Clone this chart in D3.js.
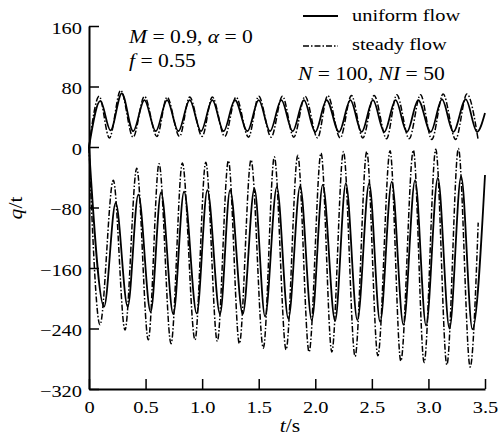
<!DOCTYPE html>
<html>
<head>
<meta charset="utf-8">
<script src="https://cdn.jsdelivr.net/npm/d3@7"></script>
<style>
  body { margin: 0; background: #fff; }
  text { font-family: "Liberation Serif", "Times New Roman", serif; fill: #000; }
</style>
</head>
<body>
<div id="chart"></div>
<script>
const width = 501;
const height = 448;

// tick values and labels
const xTicks = [0, 0.5, 1, 1.5, 2, 2.5, 3, 3.5];
const xTickLabels = ["0", "0.5", "1.0", "1.5", "2.0", "2.5", "3.0", "3.5"];
const yTicks = [-320, -240, -160, -80, 0, 80, 160];
const yTickLabels = ["\u2212320", "\u2212240", "\u2212160", "\u221280", "0", "80", "160"];

// [t, q/t] (peaks and troughs)
const uniformUpper = [
  [0, 0], [0.10, 61], [0.19, 22], [0.29, 71], [0.39, 21], [0.49, 62], [0.59, 21], [0.69, 62],
  [0.79, 21], [0.89, 62], [0.99, 21], [1.09, 62], [1.19, 21], [1.29, 62], [1.40, 21], [1.50, 62],
  [1.60, 21], [1.70, 62], [1.80, 21], [1.90, 62], [2.00, 20], [2.10, 62], [2.21, 20], [2.31, 62],
  [2.41, 20], [2.51, 62], [2.61, 20], [2.71, 62], [2.81, 20], [2.91, 62], [3.02, 20], [3.12, 63],
  [3.22, 20], [3.33, 63], [3.43, 20], [3.50, 45]
];
const steadyUpper = [
  [0, 0], [0.09, 67], [0.18, 12], [0.28, 75], [0.39, 13], [0.49, 67], [0.60, 14], [0.69, 66],
  [0.80, 14], [0.89, 66], [1.00, 14], [1.09, 66], [1.20, 14], [1.30, 66], [1.41, 13], [1.50, 67],
  [1.61, 13], [1.71, 67], [1.81, 13], [1.91, 67], [2.02, 12], [2.11, 68], [2.22, 12], [2.32, 68],
  [2.42, 12], [2.52, 68], [2.63, 11], [2.72, 69], [2.83, 11], [2.93, 69], [3.03, 10], [3.13, 70],
  [3.24, 10], [3.34, 70], [3.44, 9]
];
const uniformLower = [
  [0, 0], [0.133, -211], [0.236, -74], [0.342, -211], [0.436, -63], [0.545, -218], [0.637, -60],
  [0.745, -221], [0.840, -59], [0.952, -220], [1.046, -57], [1.158, -221], [1.247, -57],
  [1.359, -221], [1.462, -55], [1.556, -224], [1.660, -53], [1.762, -227], [1.866, -52],
  [1.969, -229], [2.066, -50], [2.175, -230], [2.270, -48], [2.372, -229], [2.476, -48],
  [2.573, -231], [2.676, -46], [2.779, -235], [2.882, -44], [2.979, -236], [3.083, -41],
  [3.186, -240], [3.289, -39], [3.389, -241], [3.50, -37]
];
const steadyLower = [
  [0, 0], [0.097, -235], [0.215, -44], [0.318, -242], [0.422, -28], [0.524, -255], [0.619, -22],
  [0.725, -260], [0.825, -21], [0.937, -255], [1.032, -20], [1.134, -257], [1.232, -18],
  [1.329, -260], [1.432, -17], [1.541, -266], [1.638, -13], [1.742, -268], [1.845, -11],
  [1.945, -271], [2.051, -8], [2.146, -271], [2.249, -6], [2.352, -277], [2.455, -6],
  [2.553, -276], [2.661, -5], [2.756, -283], [2.867, -4], [2.962, -285], [3.065, -3],
  [3.163, -288], [3.265, -2], [3.369, -291], [3.44, -100]
];

const serif = '"Liberation Serif", "Times New Roman", serif';
const stretch = 1.2; // glyphs in the figure are wider than Times

const x = d3.scaleLinear().domain([0, 3.5]).range([89, 485]);
const y = d3.scaleLinear().domain([-320, 160]).range([389, 26]);

const svg = d3.select("#chart")
  .append("svg")
  .attr("width", width)
  .attr("height", height)
  .attr("viewBox", [0, 0, width, height])
  .attr("font-family", serif);

const line = d3.line()
  .x(d => x(d[0]))
  .y(d => y(d[1]))
  .curve(d3.curveMonotoneX);

const solidStyle = { width: 1.8, dash: null };
const dashStyle = { width: 1.5, dash: "6,2,1.5,2" };

[[uniformUpper, solidStyle], [uniformLower, solidStyle], [steadyUpper, dashStyle], [steadyLower, dashStyle]]
  .forEach(([data, st]) => {
    svg.append("path")
      .datum(data)
      .attr("fill", "none")
      .attr("stroke", "#000")
      .attr("stroke-width", st.width)
      .attr("stroke-dasharray", st.dash)
      .attr("stroke-linejoin", "round")
      .attr("d", line);
  });

// axes, ticks pointing inward
const xAxis = svg.append("g")
  .attr("transform", `translate(0,${y(-320)})`)
  .call(d3.axisBottom(x)
    .tickValues(xTicks)
    .tickFormat((d, i) => xTickLabels[i])
    .tickSizeInner(-10)
    .tickSizeOuter(0)
    .tickPadding(12));

const yAxis = svg.append("g")
  .attr("transform", `translate(${x(0)},0)`)
  .call(d3.axisLeft(y)
    .tickValues(yTicks)
    .tickFormat((d, i) => yTickLabels[i])
    .tickSizeInner(-10)
    .tickSizeOuter(0)
    .tickPadding(7));

[xAxis, yAxis].forEach(g => {
  g.attr("font-family", serif).attr("font-size", 17);
  g.select(".domain").attr("stroke-width", 2);
  g.selectAll(".tick line").attr("stroke-width", 1.5);
});
yAxis.selectAll("text").attr("dy", "0.42em");

// annotations
function label(xp, yp, parts, size) {
  const t = svg.append("text")
    .attr("x", xp)
    .attr("y", yp)
    .attr("font-size", size);
  parts.forEach(p => {
    t.append("tspan")
      .attr("font-style", p[1] ? "italic" : null)
      .text(p[0]);
  });
  return t;
}

label(129, 43, [["M", 1], [" = 0.9, ", 0], ["\u03b1", 1], [" = 0", 0]], 18);
label(129, 67, [["f", 1], [" = 0.55", 0]], 18);
label(298, 80, [["N", 1], [" = 100, ", 0], ["NI", 1], [" = 50", 0]], 18);
label(352, 21, [["uniform flow", 0]], 17);
label(352, 50, [["steady flow", 0]], 17);

svg.append("text")
  .attr("x", 290)
  .attr("y", 432)
  .attr("text-anchor", "middle")
  .attr("font-size", 18)
  .call(t => {
    t.append("tspan").attr("font-style", "italic").text("t");
    t.append("tspan").text("/s");
  });

svg.append("text")
  .attr("transform", "translate(22,208) rotate(-90)")
  .attr("text-anchor", "middle")
  .attr("font-size", 18)
  .call(t => {
    t.append("tspan").attr("font-style", "italic").text("q");
    t.append("tspan").text("/t");
  });

// legend samples
svg.append("line")
  .attr("x1", 303).attr("x2", 338).attr("y1", 16).attr("y2", 16)
  .attr("stroke", "#000").attr("stroke-width", 2);
svg.append("line")
  .attr("x1", 303).attr("x2", 338).attr("y1", 46).attr("y2", 46)
  .attr("stroke", "#000").attr("stroke-width", 1.5)
  .attr("stroke-dasharray", dashStyle.dash);

// widen all glyphs a little
svg.selectAll("text").each(function() {
  const w = this.getComputedTextLength();
  d3.select(this)
    .attr("textLength", w * stretch)
    .attr("lengthAdjust", "spacingAndGlyphs");
});
</script>
</body>
</html>
